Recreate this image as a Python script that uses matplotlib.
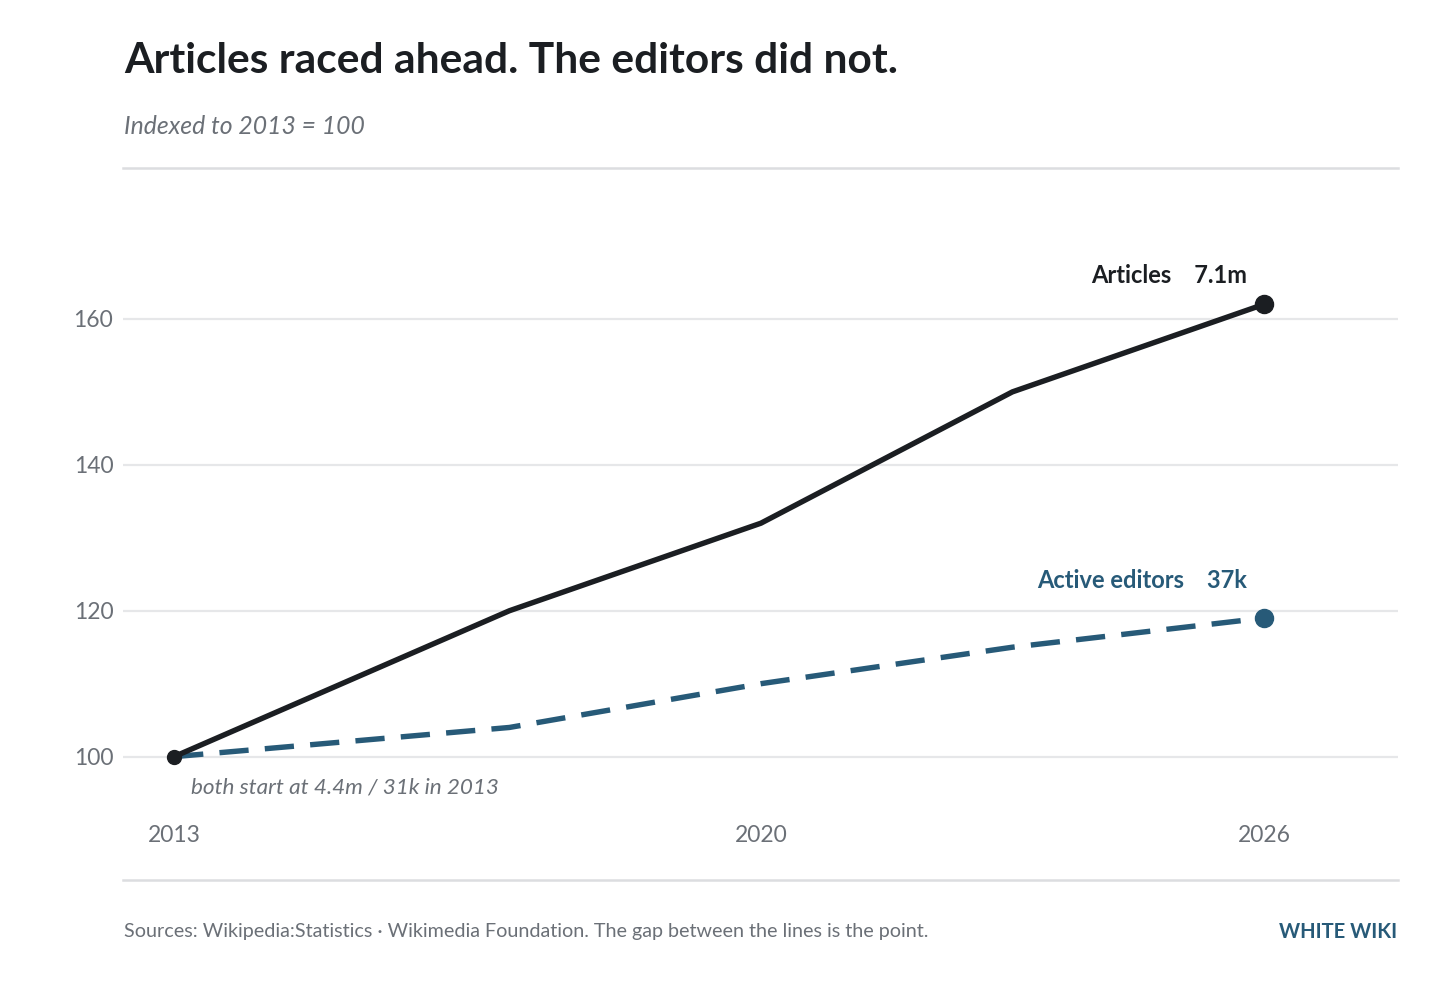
import matplotlib.pyplot as plt
from matplotlib.lines import Line2D

plt.rcParams['font.family'] = ['Lato', 'DejaVu Sans']

years = [2013, 2017, 2020, 2023, 2026]
articles = [100, 120, 132, 150, 162]
editors = [100, 104, 110, 115, 119]
yticks = [100, 120, 140, 160]
xticks = [2013, 2020, 2026]

dark = '#1b1e22'
blue = '#275a78'
grey = '#6b7077'
rule = '#dcdde0'

fig = plt.figure(figsize=(14.56, 9.83), dpi=100)
ax = fig.add_axes([123 / 1456, 1 - 815 / 983, 1275 / 1456, (815 - 209.5) / 983])
ax.set_xlim(2012.39, 2027.6)
ax.set_ylim(92, 175)

for s in ax.spines.values():
    s.set_visible(False)
ax.set_yticks(yticks)
ax.set_xticks(xticks)
ax.grid(axis='y', color='#e6e7e9', lw=1.6)
ax.set_axisbelow(True)
ax.tick_params(length=0, labelsize=16.5, labelcolor=grey)
ax.tick_params(axis='y', pad=7)
ax.tick_params(axis='x', pad=7)

# editors dashed, articles solid on top
ax.plot(years, editors, color=blue, lw=3.9, dashes=(5.4, 3.0), solid_capstyle='butt', zorder=3)
ax.plot(years, articles, color=dark, lw=3.9, zorder=4)
ax.plot([years[0]], [articles[0]], 'o', color=dark, ms=10, zorder=5)
ax.plot([years[-1]], [articles[-1]], 'o', color=dark, ms=13, zorder=5)
ax.plot([years[-1]], [editors[-1]], 'o', color=blue, ms=13, zorder=5)

ax.text(2025.8, articles[-1] + 4.0, 'Articles    7.1m', ha='right', va='center',
        fontsize=17, fontweight='bold', color=dark)
ax.text(2025.8, editors[-1] + 5.1, 'Active editors    37k', ha='right', va='center',
        fontsize=17, fontweight='bold', color=blue)
ax.text(2013.2, 95.8, 'both start at 4.4m / 31k in 2013', ha='left', va='center',
        fontsize=16.2, style='italic', color=grey)

fig.text(124 / 1456, 1 - 61 / 983, 'Articles raced ahead. The editors did not.',
         ha='left', va='center', fontsize=30.6, fontweight='bold', color=dark)
fig.text(124 / 1456, 1 - 127 / 983, 'Indexed to 2013 = 100',
         ha='left', va='center', fontsize=17.8, style='italic', color=grey)

for yy in [168, 880]:
    fig.add_artist(Line2D([123 / 1456, 1398 / 1456], [1 - yy / 983, 1 - yy / 983],
                          color=rule, lw=1.8))

fig.text(124 / 1456, 1 - 932 / 983,
         'Sources: Wikipedia:Statistics \u00b7 Wikimedia Foundation. The gap between the lines is the point.',
         ha='left', va='center', fontsize=14.2, color=grey)
fig.text(1397 / 1456, 1 - 932 / 983, 'WHITE WIKI', ha='right', va='center',
         fontsize=14.5, fontweight='bold', color=blue)

fig.savefig('out.png', dpi=100, facecolor='white')
